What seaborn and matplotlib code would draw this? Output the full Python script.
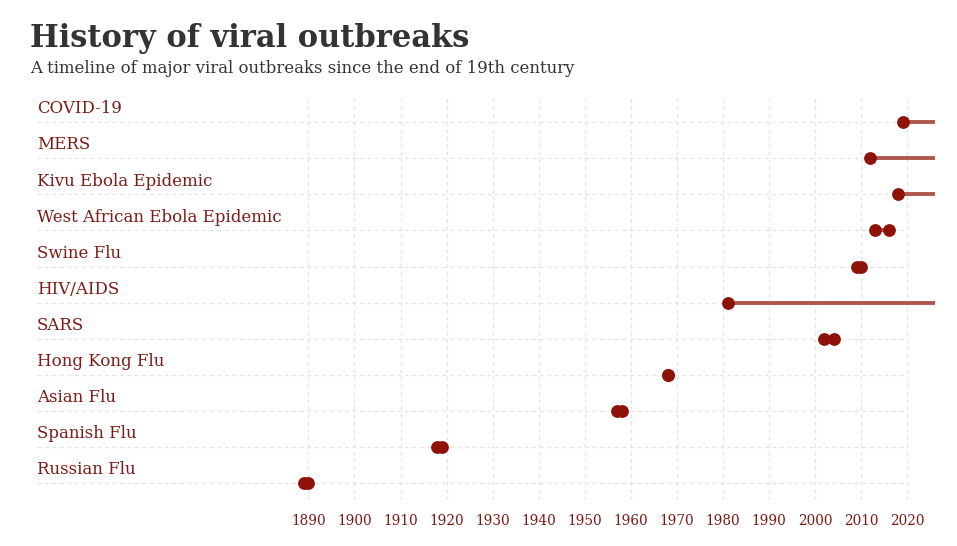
import matplotlib.pyplot as plt
import seaborn as sns
import pandas as pd
import numpy as np

# Datos: brotes virales (de abajo hacia arriba)
outbreaks = ['Russian Flu', 'Spanish Flu', 'Asian Flu', 'Hong Kong Flu', 'SARS',
             'HIV/AIDS', 'Swine Flu', 'West African Ebola Epidemic',
             'Kivu Ebola Epidemic', 'MERS', 'COVID-19']
start_year = [1889, 1918, 1957, 1968, 2002, 1981, 2009, 2013, 2018, 2012, 2019]
end_year = [1890, 1919, 1958, 1968, 2004, 2026, 2010, 2016, 2026, 2026, 2026]
ongoing = [False, False, False, False, False, True, False, False, True, True, True]
tick_years = list(range(1890, 2021, 10))

DOT = '#8f1208'
LINE = '#b0574c'
LABEL = '#7d1a14'
GRID = '#e3e3e3'

df = pd.DataFrame({'outbreak': outbreaks, 'start': start_year,
                   'end': end_year, 'ongoing': ongoing})
df['pos'] = np.arange(len(df))
points = pd.concat([
    df[['outbreak', 'pos', 'start']].rename(columns={'start': 'year'}),
    df.loc[~df['ongoing'], ['outbreak', 'pos', 'end']].rename(columns={'end': 'year'}),
])

sns.set_theme(style='white')
plt.rcParams['font.family'] = ['DejaVu Serif']

fig = plt.figure(figsize=(9.57, 5.46), dpi=100)
fig.patch.set_facecolor('white')
ax = fig.add_axes([0.031, 0.084, 0.946, 0.742])

x_left = 1829.5
x_right = 2026

# Rejilla
for yr in tick_years:
    ax.axvline(yr, color=GRID, linestyle=(0, (3, 3)), linewidth=0.9, zorder=0)
ax.hlines(df['pos'], x_left + 1.5, 2020, color=GRID, linestyle=(0, (3, 3)),
          linewidth=0.9, zorder=0)

# Líneas de duración
ax.hlines(df['pos'], df['start'], df['end'], color=LINE, linewidth=2.8, zorder=2)

# Puntos
sns.scatterplot(data=points, x='year', y='pos', color=DOT, s=85,
                edgecolor=DOT, linewidth=0, zorder=3, ax=ax, legend=False)

# Etiquetas de cada brote
for name, pos in zip(df['outbreak'], df['pos']):
    ax.text(x_left + 1.6, pos + 0.13, name, color=LABEL, fontsize=12,
            va='bottom', ha='left')

ax.set_xlim(x_left, x_right)
ax.set_ylim(-0.47, 10.75)
ax.set_xticks(tick_years)
ax.set_xticklabels([str(y) for y in tick_years], color=LABEL, fontsize=9.8)
ax.set_yticks([])
ax.tick_params(axis='x', length=0, pad=10)
ax.set_xlabel('')
ax.set_ylabel('')
for s in ax.spines.values():
    s.set_visible(False)
ax.set_facecolor('white')

fig.text(0.031, 0.93, 'History of viral outbreaks', fontsize=22, fontweight='bold',
         color='#333333', va='center', ha='left')
fig.text(0.031, 0.875, 'A timeline of major viral outbreaks since the end of 19th century',
         fontsize=11.9, color='#333333', va='center', ha='left')

plt.savefig('out.png', dpi=100, facecolor='white')
plt.close()
